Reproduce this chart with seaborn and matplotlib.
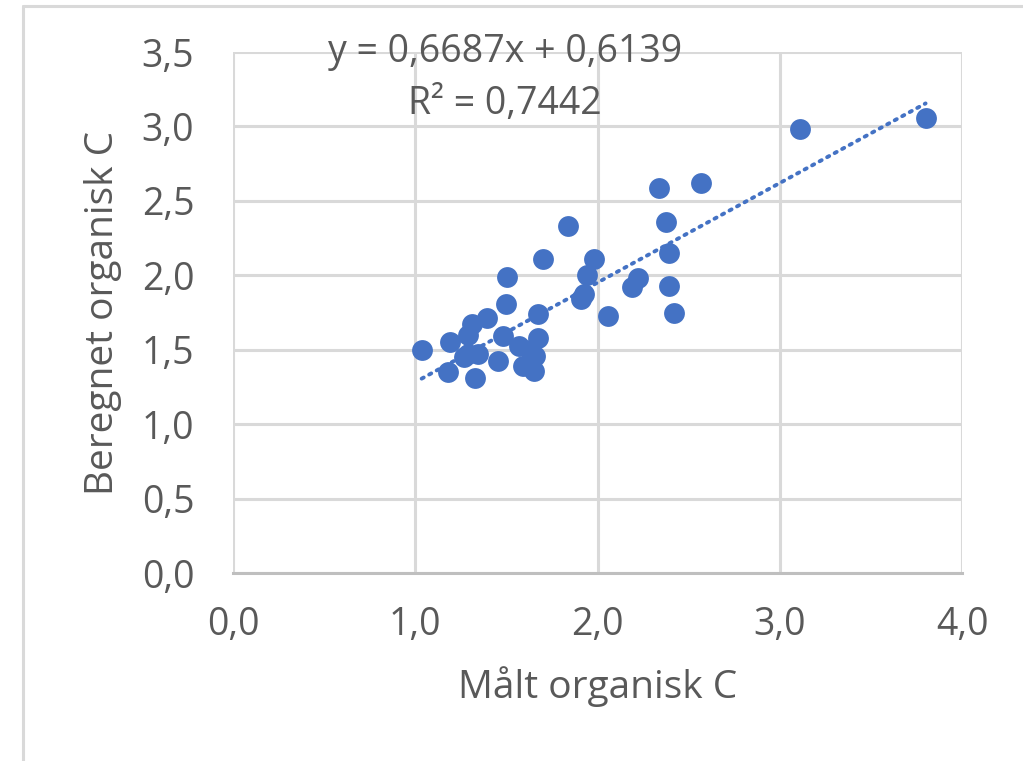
import numpy as np
import pandas as pd
import matplotlib
matplotlib.use("Agg")
import matplotlib.pyplot as plt
import seaborn as sns

maalt = [1.035, 1.19, 1.18, 1.265, 1.29, 1.29, 1.31, 1.33, 1.345, 1.395,
         1.455, 1.48, 1.50, 1.505, 1.57, 1.59, 1.63, 1.65, 1.655, 1.675,
         1.675, 1.70, 1.84, 1.91, 1.925, 1.94, 1.98, 2.06, 2.19, 2.22,
         2.34, 2.375, 2.39, 2.39, 2.42, 2.57, 3.11, 3.80]
beregnet = [1.50, 1.555, 1.35, 1.45, 1.60, 1.47, 1.67, 1.31, 1.47, 1.715,
            1.425, 1.59, 1.81, 1.99, 1.525, 1.39, 1.50, 1.36, 1.46, 1.74,
            1.58, 2.11, 2.33, 1.84, 1.876, 2.00, 2.11, 1.73, 1.92, 1.98,
            2.59, 2.36, 2.15, 1.93, 1.75, 2.62, 2.985, 3.06]

slope = 0.6687
intercept = 0.6139
r2 = 0.7442

x_ticks = [0.0, 1.0, 2.0, 3.0, 4.0]
y_ticks = [0.0, 0.5, 1.0, 1.5, 2.0, 2.5, 3.0, 3.5]

df = pd.DataFrame({"Målt organisk C": maalt, "Beregnet organisk C": beregnet})

blue = "#4472C4"
grey_txt = "#595959"
grid_col = "#D9D9D9"

sns.set_style("white")
plt.rcParams['font.family'] = ['Open Sans', 'DejaVu Sans']

fig = plt.figure(figsize=(10.23, 7.61), dpi=100)
ax = fig.add_axes([0.2278, 0.247, 0.7126, 0.6846])

sns.scatterplot(data=df, x="Målt organisk C", y="Beregnet organisk C", ax=ax,
                color=blue, s=225, edgecolor=blue, linewidth=0, zorder=3)

# trend line from the equation shown on the chart
tx = np.array([min(maalt), max(maalt)])
ax.plot(tx, slope * tx + intercept, color=blue, lw=2.8,
        linestyle=(0, (0.6, 1.6)), dash_capstyle="round", zorder=4)

ax.set_xlim(0, 4.0)
ax.set_ylim(0, 3.5)
ax.set_xticks(x_ticks)
ax.set_yticks(y_ticks)
ax.set_xticklabels([f"{v:.1f}".replace(".", ",") for v in x_ticks])
ax.set_yticklabels([f"{v:.1f}".replace(".", ",") for v in y_ticks])
ax.tick_params(axis="both", length=0, labelsize=27, labelcolor=grey_txt)
ax.tick_params(axis="x", pad=24)
ax.tick_params(axis="y", pad=28)

ax.grid(True, color=grid_col, lw=2.2)
ax.set_axisbelow(True)
for side in ["top", "right", "left"]:
    ax.spines[side].set_visible(False)
ax.spines["bottom"].set_color("#BFBFBF")
ax.spines["bottom"].set_linewidth(2.2)

ax.set_xlabel("Målt organisk C", fontsize=28, color=grey_txt, labelpad=16)
ax.set_ylabel("Beregnet organisk C", fontsize=28, color=grey_txt, labelpad=14)

eq = f"y = {slope:.4f}x + {intercept:.4f}".replace(".", ",")
r2_txt = f"R² = {r2:.4f}".replace(".", ",")
fig.text(505 / 1023, 1 - 52 / 761, eq, ha="center", va="center",
         fontsize=27, color=grey_txt)
fig.text(505 / 1023, 1 - 104 / 761, r2_txt, ha="center", va="center",
         fontsize=27, color=grey_txt)

# light frame around the chart area
fig.add_artist(plt.Line2D([22.5 / 1023, 22.5 / 1023], [0, 1 - 5.5 / 761],
                          color=grid_col, lw=2.2, transform=fig.transFigure))
fig.add_artist(plt.Line2D([22.5 / 1023, 1], [1 - 5.5 / 761, 1 - 5.5 / 761],
                          color=grid_col, lw=2.2, transform=fig.transFigure))

fig.savefig("out.png", dpi=100)
